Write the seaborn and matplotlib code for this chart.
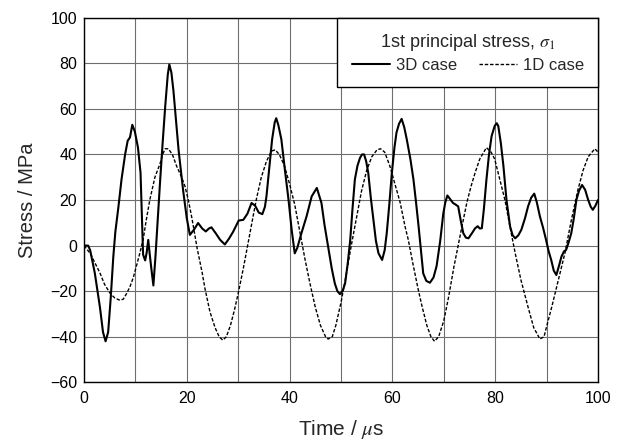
import numpy as np
import pandas as pd
import matplotlib
matplotlib.use("Agg")
import matplotlib.pyplot as plt
import seaborn as sns
from matplotlib.ticker import MultipleLocator

# ---- data ----
t_3d = [0, 0.8, 1.2, 2.1, 3.1, 3.7, 4.2, 4.7, 5.2, 5.7, 6.1, 6.7, 7.3, 8.0, 8.5, 8.95, 9.4, 9.9,
        10.5, 11.0, 11.3, 11.5, 11.9, 12.2, 12.5, 12.8, 13.1, 13.5, 13.9, 14.3, 14.8, 15.3, 15.8,
        16.3, 16.6, 17.0, 17.4, 17.9, 18.4, 19.3, 20.0, 20.6, 21.4, 22.2, 23.0, 23.7, 24.3, 24.8,
        25.6, 26.5, 27.4, 28.2, 29.0, 30.1, 31.0, 31.8, 32.6, 33.3, 34.0, 34.7, 35.2, 35.5, 36.0,
        36.6, 37.1, 37.4, 37.8, 38.4, 39.1, 39.8, 40.4, 41.0, 41.5, 42.3, 43.3, 44.3, 45.3, 46.2,
        46.8, 47.5, 48.2, 48.8, 49.3, 49.8, 50.3, 50.8, 51.3, 51.8, 52.2, 52.7, 53.2, 53.7, 54.1,
        54.5, 54.9, 55.3, 55.8, 56.3, 56.8, 57.3, 58.0, 58.5, 58.9, 59.4, 59.9, 60.4, 60.8, 61.3,
        61.8, 62.3, 62.8, 63.5, 64.1, 64.6, 65.1, 65.6, 66.0, 66.6, 67.3, 68.0, 68.6, 69.3, 69.9,
        70.3, 70.7, 71.2, 71.8, 72.3, 72.8, 73.3, 73.8, 74.3, 74.8, 75.5, 76.1, 76.6, 77.0, 77.4,
        77.8, 78.3, 78.8, 79.3, 79.9, 80.3, 80.6, 81.1, 81.6, 82.2, 82.9, 83.4, 83.9, 84.5, 85.1,
        85.8, 86.4, 87.0, 87.6, 88.1, 88.7, 89.3, 89.9, 90.4, 90.9, 91.4, 91.9, 92.4, 92.9, 93.4,
        93.8, 94.3, 94.8, 95.3, 95.8, 96.3, 96.9, 97.5, 98.1, 98.6, 99.0, 99.5, 100]
s_3d = [0, 0, -2, -12, -27, -38, -42, -38, -23, -5, 6, 17, 29, 40, 46, 47.5, 53, 50,
        43, 32, 10, -4, -6.5, -3, 2.5, -4, -10, -17.5, -5, 10, 28, 45, 61,
        75, 79.5, 76, 68, 55, 42, 24, 12, 4.7, 7, 9.9, 7.5, 6.2, 7.5, 8,
        5.5, 2.5, 0.5, 3, 6, 11, 11.3, 14, 18.7, 17.5, 14.5, 13.8, 17, 21.6, 33,
        46.6, 54, 55.9, 53, 46.6, 33, 20, 7, -3.4, -1, 5.4, 12.8, 21.6, 25.3, 18.7,
        9, -0.4, -10, -16.6, -20, -21.3, -20, -16.6, -8, 2.5, 15, 29, 35, 38.5, 40,
        40, 37, 32, 21, 11.3, 2, -3.4, -6.3, -2, 5.4, 18, 32, 43, 49.6, 53.5,
        55.6, 52, 46.6, 38, 29, 19, 8.4, -3, -12.2, -15.5, -16.3, -14, -9, 2, 14,
        19, 22, 20.5, 18.7, 18, 17.2, 11, 5.4, 3.5, 3.2, 5.5, 7.6, 8.5, 7.5, 7.6,
        16, 29, 40, 48, 52.5, 53.7, 52.5, 45, 35, 20, 8.4, 4.5, 3.2, 4.5, 7,
        12, 17.2, 21, 22.8, 19, 12.8, 8, 2.5, -2.5, -6.3, -11, -12.9, -9, -4.8, -2.5,
        -1.9, 1.5, 5.4, 12, 20, 24, 26.6, 24.5, 20, 17, 15.7, 17.5, 20]

t_1d = [0, 1.2, 2, 3.1, 4, 5.1, 6.0, 7.0, 7.65, 8.3, 8.95, 9.6, 10.2, 10.9, 11.5, 12.1, 12.8,
        13.8, 14.8, 15.3, 15.8, 16.4, 17.2, 18.0, 19.0, 19.65, 20.3, 21, 22, 23, 23.55, 24.5,
        25.5, 26.3, 27, 27.7, 28.5, 29.3, 30, 31, 32, 33, 33.6, 34.5, 35.5, 36.5, 37.2, 38, 39,
        40, 41, 42, 43, 44, 45, 46, 47, 47.5, 48.3, 49, 50, 51, 52, 53, 54, 55, 56, 57, 57.7,
        58.5, 59.5, 60.5, 61.5, 62.5, 63.1, 64, 65, 65.7, 66.7, 67.5, 68.2, 69, 70, 70.9, 72,
        73.5, 74.5, 75.3, 76.1, 77, 78.3, 79.2, 79.9, 80.9, 81.9, 82.9, 83.9, 85, 86.4, 87.5,
        88.7, 89.5, 90.3, 91, 92.3, 93.6, 94.8, 96.1, 97.1, 98.1, 99.4, 100]
s_1d = [0, -3.4, -7, -12, -17, -21, -23, -24, -23.5, -21, -18, -14, -9, -3, 2.5, 11, 20,
        30, 36, 40, 42.5, 42.5, 40, 35, 30, 26, 20, 12, -1, -12, -19, -29,
        -36, -40, -41.5, -40, -35, -28, -21, -10, 2, 14, 21, 30, 37, 41.5, 42, 40, 35,
        27, 18, 6, -6, -17, -27, -35, -40, -41, -40, -35, -25, -13, 0, 12, 24, 33, 39, 42, 42.5,
        41, 35, 27, 19, 8, 2.5, -8, -19, -26, -35, -40, -42, -40, -33, -23, -9,
        8, 19, 26, 32, 38, 43, 41, 38, 29, 20, 8, -3.4, -15, -27, -36,
        -41, -40, -33, -27, -15, -3, 11, 24.5, 33, 39, 42.5, 41]

df3 = pd.DataFrame({"t": t_3d, "s": s_3d})
df1 = pd.DataFrame({"t": t_1d, "s": s_1d})

sns.set_style("white")
plt.rcParams["font.family"] = ["Liberation Sans", "DejaVu Sans"]
plt.rcParams["mathtext.fontset"] = "stix"

fig = plt.figure(figsize=(6.24, 4.43), dpi=100)
ax = fig.add_axes([0.1346, 0.137, 0.8237, 0.823])

sns.lineplot(data=df3, x="t", y="s", ax=ax, color="black", linewidth=1.5,
             label="3D case", sort=False, estimator=None)
sns.lineplot(data=df1, x="t", y="s", ax=ax, color="black", linewidth=1.0,
             label="1D case", sort=False, estimator=None)
ax.lines[1].set_dashes([2.5, 1.3])

ax.set_xlim(0, 100)
ax.set_ylim(-60, 100)
ax.xaxis.set_major_locator(MultipleLocator(20))
ax.xaxis.set_minor_locator(MultipleLocator(10))
ax.yaxis.set_major_locator(MultipleLocator(20))
ax.yaxis.set_minor_locator(MultipleLocator(10))
ax.grid(True, which="major", axis="y", color="#6e6e6e", linewidth=0.8)
ax.grid(True, which="both", axis="x", color="#6e6e6e", linewidth=0.8)
ax.set_axisbelow(True)
ax.tick_params(axis="both", which="both", direction="in", colors="black",
               labelsize=11.5, length=4, width=0.8)
ax.tick_params(axis="x", which="major", pad=6)
ax.tick_params(axis="y", which="major", pad=5)
for sp in ax.spines.values():
    sp.set_color("black")
    sp.set_linewidth(1.0)

ax.set_xlabel(r"Time / $\mu$s", fontsize=15, labelpad=9)
ax.set_ylabel("Stress / MPa", fontsize=14.5, labelpad=9)

leg = ax.legend(loc="upper right", ncol=2, title=r"1st principal stress, $\sigma_1$",
                fontsize=12, title_fontsize=13, frameon=True, fancybox=False,
                edgecolor="black", framealpha=1, borderaxespad=0,
                handlelength=2.3, columnspacing=1.3, handletextpad=0.35,
                borderpad=0.85, labelspacing=0.3)
leg.get_frame().set_linewidth(1.0)

fig.savefig("out.png", dpi=100)
